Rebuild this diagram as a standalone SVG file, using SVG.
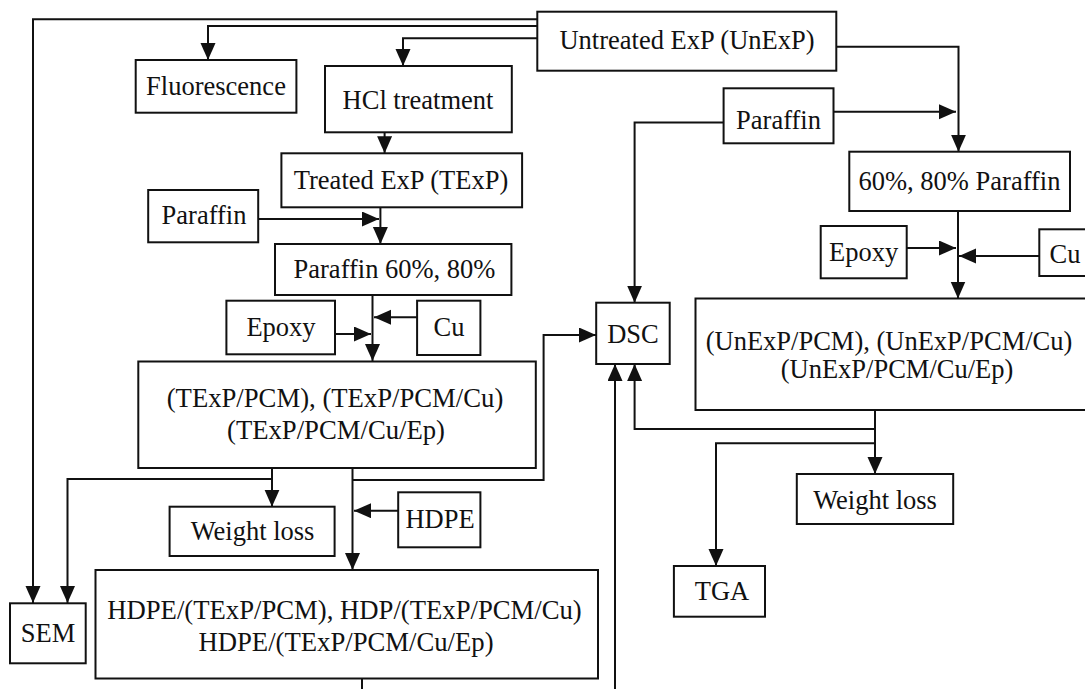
<svg xmlns="http://www.w3.org/2000/svg" width="1085" height="689" viewBox="0 0 1085 689">
<style>
.box{fill:#fff;stroke:#111;stroke-width:2}
.t{font-family:"Liberation Serif","Times New Roman",serif;font-size:26.5px;fill:#111;text-anchor:middle}
.s{font-size:26.7px}
.c{fill:none;stroke:#111;stroke-width:2}
</style>
<defs>
<marker id="ah" markerUnits="userSpaceOnUse" markerWidth="18" markerHeight="16" refX="17" refY="7.5" orient="auto">
<path d="M0,0 L17,7.5 L0,15 Z" fill="#111"/>
</marker>
</defs>
<rect width="1085" height="689" fill="#fff"/>
<g id="connectors">
<path class="c" d="M537,19.3 H33 V603" marker-end="url(#ah)"/>
<path class="c" d="M537,26 H208 V60" marker-end="url(#ah)"/>
<path class="c" d="M537,38.3 H403 V66" marker-end="url(#ah)"/>
<path class="c" d="M836,46.7 H958.5 V151.7" marker-end="url(#ah)"/>
<path class="c" d="M833.5,111.7 H956" marker-end="url(#ah)"/>
<path class="c" d="M723.6,122.5 H634.6 V302.7" marker-end="url(#ah)"/>
<path class="c" d="M384.6,132.3 V153.3" marker-end="url(#ah)"/>
<path class="c" d="M380.4,207.3 V244" marker-end="url(#ah)"/>
<path class="c" d="M258.2,219 H379" marker-end="url(#ah)"/>
<path class="c" d="M372.5,295 V361" marker-end="url(#ah)"/>
<path class="c" d="M335,334 H371" marker-end="url(#ah)"/>
<path class="c" d="M417,317.3 H374" marker-end="url(#ah)"/>
<path class="c" d="M272,468 V506.7" marker-end="url(#ah)"/>
<path class="c" d="M272,479 H67.5 V603" marker-end="url(#ah)"/>
<path class="c" d="M352.5,468 V570" marker-end="url(#ah)"/>
<path class="c" d="M352.5,480 H543.6 V335 H596" marker-end="url(#ah)"/>
<path class="c" d="M398,510.7 H354" marker-end="url(#ah)"/>
<path class="c" d="M362,678.5 V700 H615 V364" marker-end="url(#ah)"/>
<path class="c" d="M958,211 V298.5" marker-end="url(#ah)"/>
<path class="c" d="M906.7,248 H956" marker-end="url(#ah)"/>
<path class="c" d="M1039.3,256 H959" marker-end="url(#ah)"/>
<path class="c" d="M875,410 V474" marker-end="url(#ah)"/>
<path class="c" d="M875,429 H634.6 V364" marker-end="url(#ah)"/>
<path class="c" d="M875,443.3 H716 V566" marker-end="url(#ah)"/>
</g>
<g id="untreated"><rect class="box" x="537.3" y="11.7" width="299" height="59"/><text class="t" x="687" y="49">Untreated ExP (UnExP)</text></g>
<g id="fluorescence"><rect class="box" x="135.7" y="60" width="160.7" height="52.7"/><text class="t" x="216" y="95">Fluorescence</text></g>
<g id="hcl"><rect class="box" x="325" y="66" width="186.8" height="66.3"/><text class="t" x="418" y="108.5">HCl treatment</text></g>
<g id="texp"><rect class="box" x="281.4" y="153.3" width="240.7" height="54"/><text class="t" x="401" y="188.5">Treated ExP (TExP)</text></g>
<g id="paraffin-left"><rect class="box" x="148.2" y="190" width="110" height="52.3"/><text class="t" x="204" y="224">Paraffin</text></g>
<g id="paraffin6080"><rect class="box" x="275" y="244" width="236.4" height="51"/><text class="t" x="394.5" y="278">Paraffin 60%, 80%</text></g>
<g id="epoxy-left"><rect class="box" x="226.4" y="300.7" width="108.6" height="53.6"/><text class="t" x="281" y="336">Epoxy</text></g>
<g id="cu-left"><rect class="box" x="417.1" y="300.7" width="63.3" height="54.3"/><text class="t" x="449" y="336">Cu</text></g>
<g id="texp-pcm"><rect class="box" x="138.3" y="361.5" width="397.5" height="106.5"/><text class="t s" x="335" y="406.5">(TExP/PCM), (TExP/PCM/Cu)</text><text class="t s" x="336" y="438.5">(TExP/PCM/Cu/Ep)</text></g>
<g id="weightloss-left"><rect class="box" x="169.6" y="506.7" width="165" height="49.3"/><text class="t" x="252.5" y="540">Weight loss</text></g>
<g id="hdpe"><rect class="box" x="398.2" y="492.3" width="82.2" height="55"/><text class="t" x="440" y="528">HDPE</text></g>
<g id="sem"><rect class="box" x="10" y="603.3" width="75.7" height="60"/><text class="t" x="48" y="642">SEM</text></g>
<g id="hdpe-composite"><rect class="box" x="95.5" y="570" width="502.5" height="108.5"/><text class="t s" x="344.5" y="618.5">HDPE/(TExP/PCM), HDP/(TExP/PCM/Cu)</text><text class="t s" x="346" y="650.5">HDPE/(TExP/PCM/Cu/Ep)</text></g>
<g id="dsc"><rect class="box" x="596.2" y="302.7" width="73.5" height="61.3"/><text class="t" x="633" y="343">DSC</text></g>
<g id="paraffin-right"><rect class="box" x="723.6" y="88.3" width="109.9" height="55"/><text class="t" x="778.5" y="129">Paraffin</text></g>
<g id="paraffin-right-6080"><rect class="box" x="849.3" y="151.7" width="220.7" height="59.3"/><text class="t" x="959.5" y="190">60%, 80% Paraffin</text></g>
<g id="epoxy-right"><rect class="box" x="820.7" y="226" width="86" height="52.3"/><text class="t" x="863.7" y="260.5">Epoxy</text></g>
<g id="cu-right"><rect class="box" x="1039.3" y="229.3" width="60" height="46.7"/><text class="t" x="1065" y="262.5">Cu</text></g>
<g id="unexp-pcm"><rect class="box" x="695.5" y="298.5" width="400" height="111.5"/><text class="t" x="889" y="350">(UnExP/PCM), (UnExP/PCM/Cu)</text><text class="t" x="897" y="378">(UnExP/PCM/Cu/Ep)</text></g>
<g id="weightloss-right"><rect class="box" x="796.8" y="474" width="156.4" height="50"/><text class="t" x="875" y="508.5">Weight loss</text></g>
<g id="tga"><rect class="box" x="673.9" y="566" width="91.1" height="50.7"/><text class="t" x="722" y="600">TGA</text></g>
</svg>
